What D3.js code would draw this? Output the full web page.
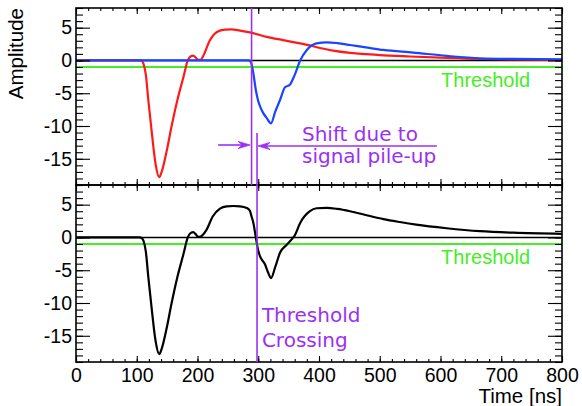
<!DOCTYPE html>
<html><head><meta charset="utf-8">
<script src="https://cdn.jsdelivr.net/npm/d3@7"></script>
<style>
body{margin:0;background:#fff;}
svg{display:block;}
</style></head>
<body>
<svg id="c" width="582" height="406"></svg>
<script>
// ---- data (time in ns, amplitude) ----
const redT   = [0,100,108,111,115,119,125,131,137,141,150,157,167,177,184,189,193,197,201,205,210,220,232,245,256,270,290,314,341,369,423,500,550,600,665,720,800];
const redV   = [0,0,0,-0.5,-2.2,-6,-11.2,-15.8,-17.8,-17,-13.5,-10.2,-6,-2.5,0,0.65,0.75,0.45,0.1,0.1,0.8,3.0,4.35,4.7,4.75,4.55,4.2,3.6,3.1,2.6,1.5,0.82,0.6,0.42,0.22,0.15,0.1];
const blueT  = [0,284,288,292,296,300,303,308,314,321,328,336,344,352,360,369,380,396,413,430,451,480,506,555,610,665,720,800];
const blueV  = [0,0,-0.3,-2,-4.5,-6.2,-7,-8,-8.8,-9.6,-7.8,-6,-4.1,-3.7,-2.2,0,1.6,2.6,2.77,2.65,2.36,1.95,1.6,1.2,0.7,0.33,0.23,0.18];
const sumT   = [0,105,108,111,115,119,125,131,137,141,150,157,167,177,184,189,193,197,201,205,215,225,237,248,259,270,281,286,289,292,296,300,303,311,316,321,328,336,347,355,360,369,385,396,413,430,451,480,506,533,560,610,665,720,800];
const sumV   = [0,0,-0.1,-0.5,-2.2,-6,-11.2,-15.8,-17.8,-17,-13.5,-10.2,-6,-2.5,0,0.7,0.8,0.5,0.1,0.15,1.2,3.2,4.4,4.75,4.8,4.75,4.5,4.1,3.2,2.2,0,-2,-2.9,-4.1,-5.3,-6.2,-4.5,-2.3,-1.1,-0.3,0.3,2.2,4.0,4.45,4.5,4.35,4.0,3.35,2.8,2.35,1.95,1.4,0.95,0.72,0.55];
const xTicks = [0,100,200,300,400,500,600,700,800];
const yTicks = [-15,-10,-5,0,5];
const threshold = -1;
const crossTop = 289;      // threshold crossing of the single pulse
const crossSum = 298;      // threshold crossing of the pile-up sum

// ---- layout ----
const svg = d3.select("#c");
const L = 76, R = 562, T1 = 8, B1 = 185, T2 = 185, B2 = 362;
const x = d3.scaleLinear().domain([0,800]).range([L,R]);
const yTop = d3.scaleLinear().domain([-19,8]).range([B1,T1]);
const yBot = d3.scaleLinear().domain([-19,8]).range([B2,T2]);

const RED="#ff1a1a", BLUE="#1a44ff", GREEN="#44ee22", VIOLET="#9b30f5";
const SANS = "'Liberation Sans',Arial,sans-serif";
const DEJA = "'DejaVu Sans',sans-serif";

svg.append("defs").append("clipPath").attr("id","clipT")
  .append("rect").attr("x",L).attr("y",T1).attr("width",R-L).attr("height",B1-T1);
svg.select("defs").append("clipPath").attr("id","clipB")
  .append("rect").attr("x",L).attr("y",T2).attr("width",R-L).attr("height",B2-T2);

function panel(y, top, bottom, clip, curves, showX){
  const g = svg.append("g");
  const pc = g.append("g").attr("clip-path",`url(#${clip})`);
  pc.append("line").attr("x1",L).attr("x2",R).attr("y1",y(0)).attr("y2",y(0))
    .attr("stroke","#000").attr("stroke-width",1.6);
  pc.append("line").attr("x1",L).attr("x2",R).attr("y1",y(threshold)).attr("y2",y(threshold))
    .attr("stroke",GREEN).attr("stroke-width",1.8);
  curves.forEach(c=>{
    const pts = c.t.map((t,i)=>[t,c.v[i]]);
    pc.append("path").datum(pts)
      .attr("d", d3.line().x(d=>x(d[0])).y(d=>y(d[1])).curve(d3.curveMonotoneX))
      .attr("fill","none").attr("stroke",c.color).attr("stroke-width",2.2)
      .attr("stroke-linejoin","round");
  });
  g.append("rect").attr("x",L).attr("y",top).attr("width",R-L).attr("height",bottom-top)
    .attr("fill","none").attr("stroke","#000").attr("stroke-width",1.6);
  const yMinor = d3.range(-19,9,1);
  const xMinor = d3.range(0,801,20);
  const ax = (a)=> a.select(".domain").remove();
  g.append("g").attr("transform",`translate(${L},0)`)
    .call(d3.axisLeft(y).tickValues(yMinor).tickSize(-7).tickFormat("")).call(ax);
  g.append("g").attr("transform",`translate(${L},0)`)
    .call(d3.axisLeft(y).tickValues(yTicks).tickSize(-14).tickPadding(4).tickFormat(d=>d))
    .call(ax).call(s=>s.selectAll("text").style("font-size","19.5px").attr("fill","#000")
      .style("font-family",SANS));
  g.append("g").attr("transform",`translate(${R},0)`)
    .call(d3.axisRight(y).tickValues(yMinor).tickSize(-7).tickFormat("")).call(ax);
  g.append("g").attr("transform",`translate(${R},0)`)
    .call(d3.axisRight(y).tickValues(yTicks).tickSize(-14).tickFormat("")).call(ax);
  g.append("g").attr("transform",`translate(0,${top})`)
    .call(d3.axisTop(x).tickValues(xMinor).tickSize(-3).tickFormat("")).call(ax);
  g.append("g").attr("transform",`translate(0,${top})`)
    .call(d3.axisTop(x).tickValues(xTicks).tickSize(-6).tickFormat("")).call(ax);
  g.append("g").attr("transform",`translate(0,${bottom})`)
    .call(d3.axisBottom(x).tickValues(xMinor).tickSize(-3).tickFormat("")).call(ax);
  const xb = g.append("g").attr("transform",`translate(0,${bottom})`)
    .call(d3.axisBottom(x).tickValues(xTicks).tickSize(-6).tickPadding(6)
      .tickFormat(showX ? (d=>d) : "")).call(ax);
  xb.selectAll("text").style("font-size","19.5px").attr("fill","#000").style("font-family",SANS);
  svg.selectAll(".tick line").attr("stroke","#000").attr("stroke-width",1.1);
  g.append("text").attr("x",x(601)).attr("y",y(threshold)+19.5)
    .style("font-size","20px").style("font-family",SANS).attr("fill",GREEN).text("Threshold");
  return g;
}

panel(yTop, T1, B1, "clipT", [{t:redT,v:redV,color:RED},{t:blueT,v:blueV,color:BLUE}], false);
panel(yBot, T2, B2, "clipB", [{t:sumT,v:sumV,color:"#000"}], true);

// ---- annotations ----
const ann = svg.append("g");
ann.append("line").attr("x1",x(crossTop)).attr("x2",x(crossTop)).attr("y1",T1).attr("y2",B1)
  .attr("stroke",VIOLET).attr("stroke-width",1.6);
ann.append("line").attr("x1",x(crossSum)).attr("x2",x(crossSum)).attr("y1",yTop(-11.05)).attr("y2",B2)
  .attr("stroke",VIOLET).attr("stroke-width",1.6);
const ay = yTop(-12.9);
const arrowTailL = 234, arrowTailR = 594;
ann.append("line").attr("x1",x(arrowTailL)).attr("x2",x(crossTop)-8).attr("y1",ay).attr("y2",ay)
  .attr("stroke",VIOLET).attr("stroke-width",1.6);
ann.append("line").attr("x1",x(crossSum)+8).attr("x2",x(arrowTailR)).attr("y1",ay+1).attr("y2",ay+1)
  .attr("stroke",VIOLET).attr("stroke-width",1.6);
function head(tipX, yy, dir){
  const len = 12, hw = 3.6, notch = 8;
  const p = d3.path();
  p.moveTo(tipX, yy);
  p.lineTo(tipX - dir*len, yy - hw);
  p.lineTo(tipX - dir*notch, yy);
  p.lineTo(tipX - dir*len, yy + hw);
  p.closePath();
  ann.append("path").attr("d",p.toString()).attr("fill",VIOLET).attr("stroke",VIOLET).attr("stroke-width",0.8);
}
head(x(crossTop)-1.5, ay, 1);
head(x(crossSum)+1, ay+1, -1);
function vtext(tx, ty, s){
  ann.append("text").attr("x",tx).attr("y",ty).style("font-size","20px")
    .style("font-family",DEJA).attr("fill",VIOLET).text(s);
}
vtext(x(372), yTop(-12.3), "Shift due to");
vtext(x(372), yTop(-15.7), "signal pile-up");
vtext(x(306), yBot(-12.9), "Threshold");
vtext(x(306), yBot(-16.7), "Crossing");

// ---- axis titles ----
svg.append("text").attr("x",R).attr("y",403).attr("text-anchor","end")
  .style("font-size","20.5px").style("font-family",SANS).attr("fill","#000").text("Time [ns]");
svg.append("text").attr("transform",`translate(23,${T1}) rotate(-90)`).attr("text-anchor","end")
  .style("font-size","20.5px").style("font-family",SANS).attr("fill","#000").text("Amplitude");
</script>
</body></html>
